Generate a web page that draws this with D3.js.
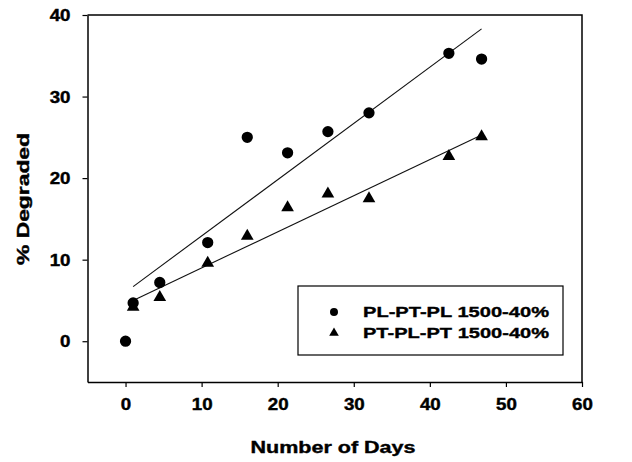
<!DOCTYPE html>
<html>
<head>
<meta charset="utf-8">
<script src="https://cdn.jsdelivr.net/npm/d3@7"></script>
<style>
  html, body { margin: 0; padding: 0; background: #fff; }
  svg text { font-family: "Liberation Sans", Arial, sans-serif; font-weight: bold; fill: #000; }
</style>
</head>
<body>
<svg id="chart" width="632" height="462"></svg>
<script>
// ---- data ----
const daysSeries = [0, 1, 4.5, 10.8, 16, 21.3, 26.6, 32, 42.5, 46.8];
const plptpl = [0, 4.7, 7.2, 12.1, 25.0, 23.1, 25.7, 28.0, 35.3, 34.6];
const ptplpt = [null, 4.3, 5.5, 9.7, 13.0, 16.5, 18.2, 17.6, 22.8, 25.2];
const fitDays = [1, 46.8];
const fitPL = [6.7, 38.3];
const fitPT = [5.0, 25.3];
const xTicks = [0, 10, 20, 30, 40, 50, 60];
const yTicks = [0, 10, 20, 30, 40];
const legendLabels = ["PL-PT-PL 1500-40%", "PT-PL-PT 1500-40%"];

const svg = d3.select("#chart");
const pLeft = 87.5, pRight = 582, pTop = 15, pBottom = 382;

const x = d3.scaleLinear().domain([-5, 60]).range([pLeft, pRight]);
const y = d3.scaleLinear().domain([-5, 40]).range([pBottom, pTop]);

// frame (top & right)
svg.append("path")
  .attr("d", `M${pLeft},${pTop}H${pRight}V${pBottom}`)
  .attr("fill", "none").attr("stroke", "#000").attr("stroke-width", 1.5);

// axes
const xAxis = svg.append("g").attr("transform", `translate(0,${pBottom})`)
  .call(d3.axisBottom(x).tickValues(xTicks).tickSize(5).tickSizeOuter(0).tickPadding(12));
const yAxis = svg.append("g").attr("transform", `translate(${pLeft},0)`)
  .call(d3.axisLeft(y).tickValues(yTicks).tickSize(5).tickSizeOuter(0).tickPadding(12));

[xAxis, yAxis].forEach(g => {
  g.select(".domain").attr("stroke", "#000").attr("stroke-width", 1.5);
  g.selectAll(".tick line").attr("stroke", "#000").attr("stroke-width", 1.2);
  g.selectAll(".tick text")
    .attr("font-size", 16)
    .attr("font-family", "'Liberation Sans', Arial, sans-serif")
    .attr("font-weight", "bold")
    .attr("fill", "#000")
    .attr("stroke", "#000").attr("stroke-width", 0.4)
    .attr("textLength", function () { return this.textContent.length * 10.4; })
    .attr("lengthAdjust", "spacingAndGlyphs");
});
yAxis.selectAll(".tick text").attr("dy", "0.36em");
xAxis.selectAll(".tick text").attr("dy", "0.71em");

// axis titles
svg.append("text")
  .attr("x", 333).attr("y", 453)
  .attr("text-anchor", "middle")
  .attr("font-size", 17)
  .attr("stroke", "#000").attr("stroke-width", 0.4)
  .attr("textLength", 165).attr("lengthAdjust", "spacingAndGlyphs")
  .text("Number of Days");

svg.append("text")
  .attr("transform", "translate(29,199) rotate(-90)")
  .attr("text-anchor", "middle")
  .attr("font-size", 17)
  .attr("stroke", "#000").attr("stroke-width", 0.4)
  .attr("textLength", 132).attr("lengthAdjust", "spacingAndGlyphs")
  .text("% Degraded");

// fit lines
const line = d3.line().x(d => x(d[0])).y(d => y(d[1]));
[fitPL, fitPT].forEach(f => {
  svg.append("path")
    .datum(fitDays.map((d, i) => [d, f[i]]))
    .attr("d", line)
    .attr("fill", "none")
    .attr("stroke", "#111")
    .attr("stroke-width", 1.1);
});

// markers
const circleSym = d3.symbol().type(d3.symbolCircle).size(100);
const triSym = d3.symbol().type(d3.symbolTriangle).size(70);

svg.append("g").selectAll("path")
  .data(daysSeries.map((d, i) => [d, plptpl[i]]).filter(d => d[1] != null))
  .join("path")
  .attr("d", circleSym)
  .attr("transform", d => `translate(${x(d[0])},${y(d[1])})`)
  .attr("fill", "#000");

svg.append("g").selectAll("path")
  .data(daysSeries.map((d, i) => [d, ptplpt[i]]).filter(d => d[1] != null))
  .join("path")
  .attr("d", triSym)
  .attr("transform", d => `translate(${x(d[0])},${y(d[1]) + 1})`)
  .attr("fill", "#000");

// legend
const lg = svg.append("g");
lg.append("rect")
  .attr("x", 298).attr("y", 286).attr("width", 265).attr("height", 69)
  .attr("fill", "#fff").attr("stroke", "#000").attr("stroke-width", 1.2);
const legSyms = [d3.symbol().type(d3.symbolCircle).size(50), d3.symbol().type(d3.symbolTriangle).size(40)];
legendLabels.forEach((lab, i) => {
  const cy = 312 + i * 21;
  lg.append("path").attr("d", legSyms[i]).attr("transform", `translate(334,${cy})`).attr("fill", "#000");
  lg.append("text")
    .attr("x", 363).attr("y", cy).attr("dy", "0.36em")
    .attr("font-size", 15)
    .attr("stroke", "#000").attr("stroke-width", 0.35)
    .attr("textLength", 186).attr("lengthAdjust", "spacingAndGlyphs")
    .text(lab);
});
</script>
</body>
</html>
